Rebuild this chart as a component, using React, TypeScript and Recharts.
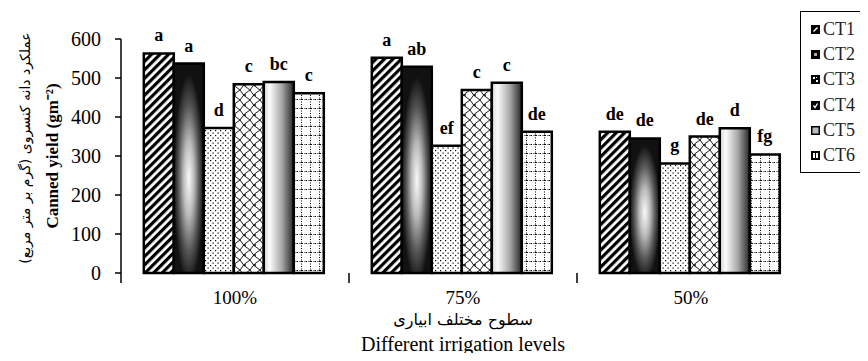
import React from "react";
import { Bar, BarChart, LabelList, Label, Legend, XAxis, YAxis } from "recharts";

// irrigation levels on the x axis
const LEVELS = ["100%", "75%", "50%"];

// canned yield (g m-2) per treatment, one value per irrigation level
const CT1 = [563, 552, 362];
const CT2 = [537, 529, 345];
const CT3 = [372, 326, 281];
const CT4 = [484, 469, 350];
const CT5 = [490, 488, 371];
const CT6 = [461, 362, 304];

// mean-comparison letters over each bar
const CT1_L = ["a", "a", "de"];
const CT2_L = ["a", "ab", "de"];
const CT3_L = ["d", "ef", "g"];
const CT4_L = ["c", "c", "de"];
const CT5_L = ["bc", "c", "d"];
const CT6_L = ["c", "de", "fg"];

const Y_TICKS = [0, 100, 200, 300, 400, 500, 600];

const SERIES = [
  { key: "CT1", values: CT1, letters: CT1_L, fill: "url(#ct1)" },
  { key: "CT2", values: CT2, letters: CT2_L, fill: "url(#ct2)" },
  { key: "CT3", values: CT3, letters: CT3_L, fill: "url(#ct3)" },
  { key: "CT4", values: CT4, letters: CT4_L, fill: "url(#ct4)" },
  { key: "CT5", values: CT5, letters: CT5_L, fill: "url(#ct5)" },
  { key: "CT6", values: CT6, letters: CT6_L, fill: "url(#ct6)" },
];

const data = LEVELS.map((level, i) => {
  const row: Record<string, string | number> = { level };
  SERIES.forEach((s) => {
    row[s.key] = s.values[i];
    row[s.key + "L"] = s.letters[i];
  });
  return row;
});

const SERIF = "'Liberation Serif', 'Times New Roman', serif";
const FA = "'DejaVu Sans', 'Noto Sans', sans-serif";

// category label plus a small tick at the left edge of each band
function LevelTick(props: any) {
  const { x, y, payload } = props;
  const half = payload?.offset ?? 114;
  return (
    <g>
      <line x1={x - half} x2={x - half} y1={y} y2={y + 10} stroke="#000" strokeWidth={1.5} />
      <text x={x} y={y + 31} textAnchor="middle" fontFamily={SERIF} fontSize={19} fill="#000">
        {payload.value}
      </text>
    </g>
  );
}

function LegendIcon({ k }: { k: string }) {
  return (
    <svg width={9} height={9} style={{ marginRight: 3 }}>
      <rect x={0} y={0} width={9} height={9} fill="#000" />
      {k === "CT1" && <path d="M2.5 6.5 L6.5 2.5" stroke="#fff" strokeWidth={1.5} />}
      {k === "CT2" && <rect x={3} y={3} width={3} height={3} fill="#aaa" />}
      {k === "CT3" && (
        <g fill="#fff">
          <rect x={2} y={2} width={2} height={2} />
          <rect x={5} y={5} width={2} height={2} />
          <rect x={5} y={2} width={1} height={1} />
        </g>
      )}
      {k === "CT4" && <path d="M2.5 4.5 L4 6.5 L6.5 2.5" stroke="#fff" strokeWidth={1.3} fill="none" />}
      {k === "CT5" && <rect x={1.5} y={1.5} width={6} height={6} fill="#bbb" />}
      {k === "CT6" && (
        <g fill="#fff">
          <rect x={2} y={2} width={5} height={5} />
          <rect x={4} y={2} width={1} height={5} fill="#000" />
        </g>
      )}
    </svg>
  );
}

function renderLegend() {
  return (
    <div
      style={{
        position: "absolute",
        left: 0,
        top: 0,
        width: 90,
        height: 162,
        border: "1px solid #000",
        boxSizing: "border-box",
        paddingTop: 5,
        paddingLeft: 10,
        background: "#fff",
      }}
    >
      {SERIES.map((s) => (
        <div
          key={s.key}
          style={{
            display: "flex",
            alignItems: "center",
            height: 25.2,
            fontFamily: SERIF,
            fontSize: 18,
            color: "#222",
            whiteSpace: "nowrap",
          }}
        >
          <LegendIcon k={s.key} />
          <span>{s.key}</span>
        </div>
      ))}
    </div>
  );
}

export default function App() {
  return (
    <div style={{ width: 868, height: 361, overflow: "hidden", position: "relative", margin: -8 }}>
      <BarChart
        width={868}
        height={361}
        data={data}
        margin={{ top: 39, right: 63, bottom: 8, left: 0 }}
        barCategoryGap="10%"
        barGap={0}
      >
        <defs>
          <pattern id="ct1" width={6} height={6} patternUnits="userSpaceOnUse" patternTransform="rotate(45)">
            <rect x={0} y={0} width={6} height={6} fill="#fff" />
            <rect x={0} y={0} width={3.2} height={6} fill="#000" />
          </pattern>
          <radialGradient id="ct2" cx="0.5" cy="0.55" r="0.5">
            <stop offset="0" stopColor="#fafafa" />
            <stop offset="0.35" stopColor="#bbb" />
            <stop offset="0.7" stopColor="#555" />
            <stop offset="1" stopColor="#111" />
          </radialGradient>
          <pattern id="ct3" width={5} height={5} patternUnits="userSpaceOnUse">
            <rect x={0} y={0} width={5} height={5} fill="#fff" />
            <rect x={0} y={0} width={1.2} height={1.2} fill="#000" />
            <rect x={2.5} y={2.5} width={1.2} height={1.2} fill="#000" />
          </pattern>
          <pattern id="ct4" width={10} height={10} patternUnits="userSpaceOnUse">
            <rect x={0} y={0} width={10} height={10} fill="#fff" />
            <path d="M0 0 Q3 6 10 10 M10 0 Q4 3 0 10" stroke="#000" strokeWidth={0.9} fill="none" />
            <rect x={4.2} y={4.2} width={1.6} height={1.6} fill="#000" />
          </pattern>
          <linearGradient id="ct5" x1="0" y1="0" x2="1" y2="0">
            <stop offset="0" stopColor="#d8d8d8" />
            <stop offset="0.2" stopColor="#fbfbfb" />
            <stop offset="0.6" stopColor="#a8a8a8" />
            <stop offset="1" stopColor="#262626" />
          </linearGradient>
          <pattern id="ct6" width={9} height={9} patternUnits="userSpaceOnUse">
            <rect x={0} y={0} width={9} height={9} fill="#fff" />
            <path d="M0 0.5 H9" stroke="#000" strokeWidth={1} strokeDasharray="1 1.5" />
            <path d="M4.5 0 V9" stroke="#000" strokeWidth={1} strokeDasharray="1 1.5" />
          </pattern>
        </defs>
        <XAxis
          dataKey="level"
          axisLine={false}
          tickLine={false}
          tickSize={0}
          tickMargin={0}
          height={80}
          interval={0}
          tick={<LevelTick />}
        >
          <Label
            value="سطوح مختلف ابیاری"
            position="insideTop"
            offset={41}
            style={{ fontFamily: FA, fontSize: 16, fill: "#000" }}
          />
          <Label
            value="Different irrigation levels"
            position="insideTop"
            offset={64}
            style={{ fontFamily: SERIF, fontSize: 20, fill: "#000" }}
          />
        </XAxis>
        <YAxis
          width={121}
          domain={[0, 600]}
          ticks={Y_TICKS}
          interval={0}
          axisLine={{ stroke: "#000", strokeWidth: 1.5 }}
          tickLine={{ stroke: "#000", strokeWidth: 1.5 }}
          tickSize={6}
          tickMargin={14}
          tick={{ fontFamily: SERIF, fontSize: 20, fill: "#000" }}
        >
          <Label
            value="Canned yield (gm⁻²)"
            position="center"
            angle={-90}
            dx={-9}
            style={{ fontFamily: SERIF, fontSize: 17, fontWeight: "bold", fill: "#000" }}
          />
          <Label
            value="عملکرد دانه کنسروی (گرم بر متر مربع)"
            position="center"
            angle={-90}
            dx={-35}
            dy={-8}
            style={{ fontFamily: FA, fontSize: 14, fill: "#000" }}
          />
        </YAxis>
        <Legend verticalAlign="top" content={renderLegend} wrapperStyle={{ left: 800, top: 11, width: 0, height: 0 }} />
        {SERIES.map((s) => (
          <Bar
            key={s.key}
            dataKey={s.key}
            fill={s.fill}
            stroke="#000"
            strokeWidth={2.5}
            isAnimationActive={false}
            legendType="square"
          >
            <LabelList
              dataKey={s.key + "L"}
              position="top"
              offset={12}
              style={{ fontFamily: SERIF, fontSize: 18, fontWeight: "bold", fill: "#000" }}
            />
          </Bar>
        ))}
      </BarChart>
    </div>
  );
}
